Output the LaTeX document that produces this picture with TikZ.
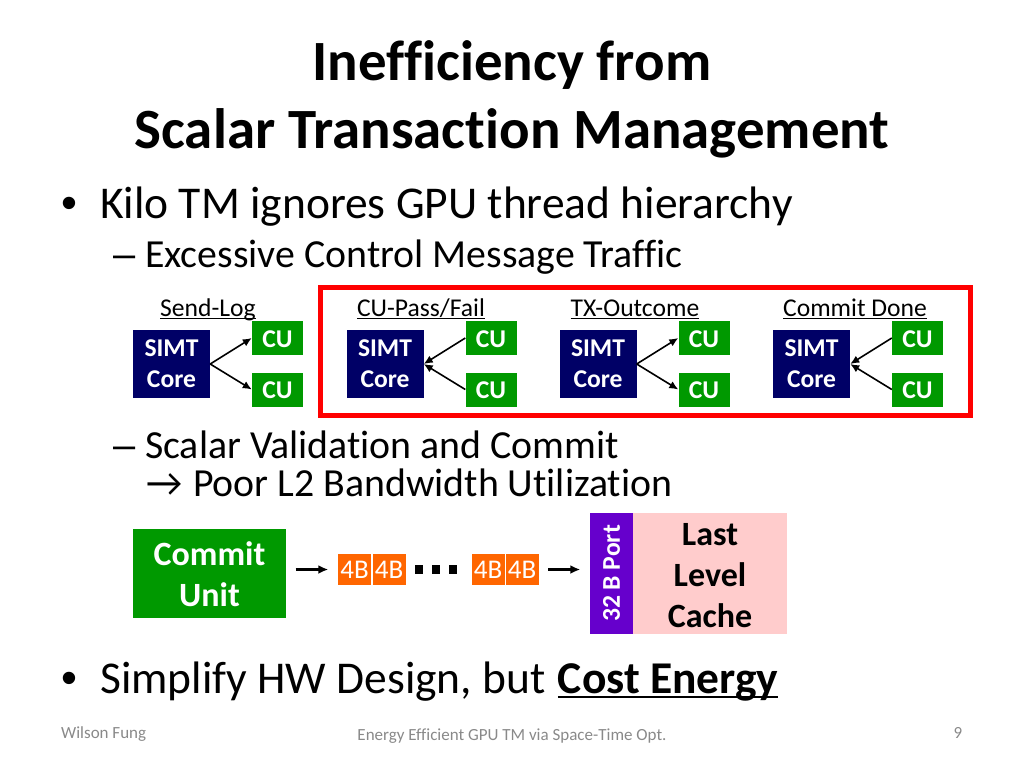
\documentclass[tikz,border=0pt]{standalone}
\usepackage{fontspec}
\usetikzlibrary{arrows.meta}
\setmainfont{Carlito}[Ligatures=NoCommon]
\newfontfamily\markfont{Liberation Sans}
\definecolor{coreblue}{RGB}{0,0,102}
\definecolor{cugreen}{RGB}{0,153,0}
\definecolor{byteorange}{RGB}{255,102,0}
\definecolor{portpurple}{RGB}{102,0,204}
\definecolor{cachepink}{RGB}{255,204,204}
\definecolor{footgray}{RGB}{137,137,137}
% text with a rule under it: thickness, gap, text
\newcommand{\barred}[3]{\vtop{\hbox{\smash{#3}}\kern#2\hrule height #1}}
\tikzset{
    core/.style={fill=coreblue, text=white, minimum width=77pt, minimum height=68pt, align=center, inner sep=0pt, font=\fontsize{25.6}{31}\selectfont\bfseries},
    cu/.style={fill=cugreen, text=white, minimum width=51pt, minimum height=34pt, inner sep=0pt, text height=18.5pt, font=\fontsize{25.6}{30}\selectfont\bfseries},
    msg/.style={anchor=base, inner sep=0pt, font=\fontsize{25.6}{30}\selectfont},
    body/.style={anchor=base west, inner sep=0pt, font=\fontsize{45.5}{54}\selectfont},
    subbody/.style={anchor=base west, inner sep=0pt, font=\fontsize{39.8}{46}\selectfont},
    foot/.style={inner sep=0pt, text=footgray, font=\fontsize{17}{20}\selectfont},
    bytebox/.style={fill=byteorange, text=white, minimum width=33pt, minimum height=31pt, inner sep=0pt, font=\fontsize{27}{32}\selectfont},
    dotbox/.style={fill=black, minimum size=8.5pt, inner sep=0pt},
    link/.style={-{Latex[length=9pt, width=8pt]}, line width=1.6pt},
    feed/.style={-{Latex[length=10pt, width=9pt]}, line width=2.2pt, shorten <=9.5pt, shorten >=9.5pt}
}
\begin{document}
\begin{tikzpicture}[x=1pt, y=-1pt]
            \useasboundingbox (0, 0) rectangle (1024, 768);
            \node[align=center, inner sep=0pt, font=\fontsize{56.9}{68}\selectfont\bfseries] (title) at (512, 99) {Inefficiency from\\Scalar Transaction Management};
            \node[body] (bulleta) at (61, 218) {\markfont •};
            \node[body] (kilo) at (100, 218) {Kilo TM ignores GPU thread hierarchy};
            \node[subbody] (dasha) at (113, 267) {\markfont –};
            \node[subbody] (excess) at (145, 267) {Excessive Control Message Traffic};
            \draw[red, line width=5pt] (320.5, 287.5) rectangle (970.5, 415.5);
            % one group per control message
            \foreach \i/\dx/\back in {a/0/0, b/213.5/1, c/426.5/0, d/640/1} {
                \begin{scope}[xshift=\dx pt]
                    \node[core] (core\i) at (171.5, 364) {SIMT\\Core};
                    \node[cu] (cuu\i) at (277.5, 338) {CU};
                    \node[cu] (cul\i) at (277.5, 389.5) {CU};
                \end{scope}
                \ifnum\back=1
                    \draw[link] (cuu\i.west) -- (core\i.east);
                    \draw[link] (cul\i.west) -- (core\i.east);
                \else
                    \draw[link] (core\i.east) -- (cuu\i.west);
                    \draw[link] (core\i.east) -- (cul\i.west);
                \fi
            }
            \node[msg] (msga) at (208, 316) {\barred{1.4pt}{1.6pt}{Send-Log}};
            \node[msg] (msgb) at (421, 316) {\barred{1.4pt}{1.6pt}{CU-Pass/Fail}};
            \node[msg] (msgc) at (635, 316) {\barred{1.4pt}{1.6pt}{TX-Outcome}};
            \node[msg] (msgd) at (855, 316) {\barred{1.4pt}{1.6pt}{Commit Done}};
            \node[subbody] (dashb) at (113, 458) {\markfont –};
            \node[subbody] (scalar) at (145, 458) {Scalar Validation and Commit};
            \node[subbody] (sym) at (146, 496) {{\fontsize{40}{44}\selectfont →}};
            \node[subbody] (poor) at (193, 496) {Poor L2 Bandwidth Utilization};
            \node[fill=cugreen, minimum width=153pt, minimum height=89pt, inner sep=0pt] (commit) at (209.5, 573.5) {};
            \node[text=white, align=center, inner sep=0pt, font=\fontsize{34}{41}\selectfont\bfseries] (commitname) at (209.5, 574.5) {Commit\\Unit};
            \node[bytebox] (bytea) at (354.5, 569.5) {4B};
            \node[bytebox] (byteb) at (389, 569.5) {4B};
            \foreach \i/\x in {a/419, b/436, c/453}
                \node[dotbox] (dot\i) at (\x, 569.5) {};
            \node[bytebox] (bytec) at (488, 569.5) {4B};
            \node[bytebox] (byted) at (522, 569.5) {4B};
            \node[fill=portpurple, minimum width=43pt, minimum height=121pt, inner sep=0pt] (port) at (611.5, 573.5) {};
            \node[rotate=90, text=white, inner sep=0pt, font=\fontsize{25.6}{30}\selectfont\bfseries] (portname) at (port.center) {32 B Port};
            \node[fill=cachepink, minimum width=154pt, minimum height=121pt, inner sep=0pt, anchor=west] (cache) at (port.east) {};
            \node[align=center, inner sep=0pt, font=\fontsize{34}{41}\selectfont\bfseries] (cachename) at (710, 575.5) {Last\\Level\\Cache};
            \draw[feed] (commit.east |- bytea.west) -- (bytea.west);
            \draw[feed] (byted.east) -- (byted.east -| port.west);
            \node[body] (bulletb) at (61, 693) {\markfont •};
            \node[body] (simplify) at (100, 693) {Simplify HW Design, but\hspace{2pt} \textbf{\barred{2.6pt}{2.6pt}{Cost Energy}}};
            \node[foot, anchor=base west] (author) at (61, 738) {Wilson Fung};
            \node[foot, anchor=base] (talk) at (512, 740) {Energy Efficient GPU TM via Space-Time Opt.};
            \node[foot, anchor=base] (page) at (958, 738) {9};
        \end{tikzpicture}
\end{document}
